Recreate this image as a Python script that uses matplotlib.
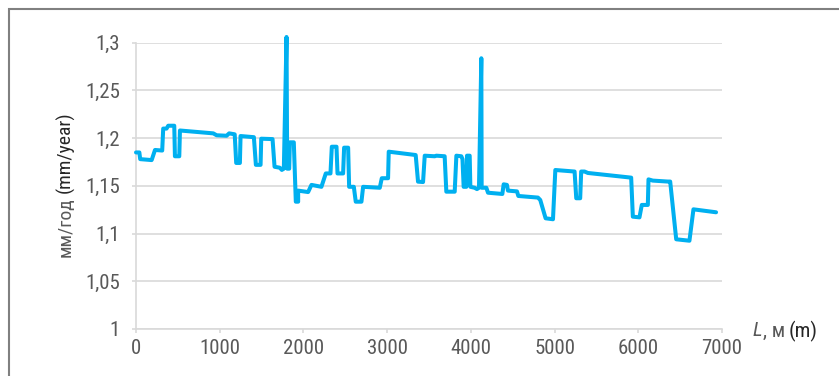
import matplotlib.pyplot as plt
from matplotlib.patches import Rectangle
from matplotlib.ticker import FuncFormatter

# distance along the route, m
dist = [0, 40, 50, 187, 227, 313, 325, 365, 385, 457, 465, 517, 525, 923, 963, 1082,
        1113, 1179, 1197, 1241, 1249, 1408, 1432, 1488, 1496, 1631, 1655, 1718, 1742,
        1766, 1798, 1806, 1830, 1838, 1885, 1909, 1937, 1937, 2056, 2096, 2215, 2267,
        2323, 2339, 2395, 2407, 2474, 2486, 2534, 2546, 2602, 2625, 2693, 2713, 2912,
        2936, 3011, 3019, 3341, 3369, 3429, 3449, 3568, 3588, 3687, 3707, 3807, 3827,
        3886, 3900, 3914, 3946, 3954, 3986, 3994, 4045, 4073, 4097, 4125, 4129, 4185,
        4205, 4376, 4392, 4431, 4443, 4551, 4567, 4801, 4829, 4893, 4981, 5009, 5239,
        5259, 5306, 5318, 5358, 5398, 5915, 5935, 6014, 6042, 6114, 6122, 6173, 6352,
        6381, 6453, 6611, 6659, 6929]
# corrosion rate, mm/year
rate = [1.185, 1.185, 1.178, 1.177, 1.1876, 1.187, 1.210, 1.210, 1.213, 1.213, 1.181,
        1.181, 1.208, 1.205, 1.203, 1.2025, 1.205, 1.204, 1.174, 1.174, 1.2022, 1.201,
        1.172, 1.172, 1.1994, 1.199, 1.170, 1.169, 1.1667, 1.168, 1.306, 1.168, 1.168,
        1.1956, 1.1956, 1.1334, 1.1334, 1.145, 1.1435, 1.151, 1.149, 1.163, 1.163,
        1.191, 1.191, 1.163, 1.163, 1.190, 1.190, 1.149, 1.149, 1.1334, 1.1334, 1.149,
        1.148, 1.158, 1.158, 1.1858, 1.1823, 1.1544, 1.154, 1.1816, 1.181, 1.1816,
        1.181, 1.1439, 1.1439, 1.1816, 1.181, 1.178, 1.149, 1.149, 1.1816, 1.1816,
        1.149, 1.148, 1.1466, 1.148, 1.2837, 1.148, 1.148, 1.1428, 1.1415, 1.1516,
        1.151, 1.145, 1.1442, 1.1394, 1.1377, 1.1352, 1.116, 1.115, 1.1666, 1.165,
        1.137, 1.137, 1.165, 1.165, 1.1635, 1.1586, 1.1177, 1.117, 1.130, 1.130,
        1.1568, 1.1555, 1.1545, 1.1545, 1.094, 1.0925, 1.1254, 1.1223]

x_ticks = [0, 1000, 2000, 3000, 4000, 5000, 6000, 7000]
y_ticks = [1.0, 1.05, 1.1, 1.15, 1.2, 1.25, 1.3]

fam = ['Roboto Condensed', 'DejaVu Sans']
txt = '#595959'
dark = '#262626'
grid = '#d9d9d9'

fig = plt.figure(figsize=(8.39, 3.76), dpi=100)
ax = fig.add_axes([136 / 839, 1 - 329 / 376, (722 - 136) / 839, (329 - 42.7) / 376])

ax.plot(dist, rate, color='#00b0f0', lw=2.9, solid_joinstyle='round',
        solid_capstyle='round', clip_on=False, zorder=3)

ax.set_xlim(0, 7000)
ax.set_ylim(1.0, 1.3)
ax.set_xticks(x_ticks)
ax.set_yticks(y_ticks)
ax.yaxis.set_major_formatter(FuncFormatter(lambda v, p: f'{v:g}'.replace('.', ',')))
ax.grid(axis='y', color=grid, lw=1.2)
ax.set_axisbelow(True)
for s in ['top', 'right']:
    ax.spines[s].set_visible(False)
for s in ['left', 'bottom']:
    ax.spines[s].set_color(grid)
    ax.spines[s].set_linewidth(1.2)
ax.tick_params(colors=grid, length=3, width=1.2, labelcolor=txt, labelsize=15)
ax.tick_params(axis='y', pad=8.5)
ax.tick_params(axis='x', pad=4)
for lab in ax.get_xticklabels() + ax.get_yticklabels():
    lab.set_family(fam)

# y axis title: Russian part in grey, English part darker
ty = fig.text(65.5 / 839, 1 - 257 / 376, 'мм/год', family=fam, fontsize=14,
              color=txt, rotation=90, ha='center', va='bottom')
ax.annotate('(mm/year)', xy=(0.5, 1), xycoords=ty, xytext=(0, 3),
            textcoords='offset points', rotation=90, ha='center', va='bottom',
            family=fam, fontsize=14, color=dark)

# x axis title
t1 = fig.text(753 / 839, 1 - 331 / 376, 'L', family=fam, style='italic',
              fontsize=15, color=txt, va='center', ha='left')
t2 = ax.annotate(', м', xy=(1, 0.5), xycoords=t1, va='center', ha='left',
                 family=fam, fontsize=15, color=txt)
ax.annotate('(m)', xy=(1, 0.5), xycoords=t2, xytext=(3, 0),
            textcoords='offset points', va='center', ha='left',
            family=fam, fontsize=15, color=dark)

# outer frame
fig.patches.append(Rectangle((8.5 / 839, -0.1), 1.2, 1 - 9.3 / 376 + 0.1,
                             transform=fig.transFigure, fill=False,
                             edgecolor='#808080', lw=1.5))

fig.savefig('out.png', dpi=100)
